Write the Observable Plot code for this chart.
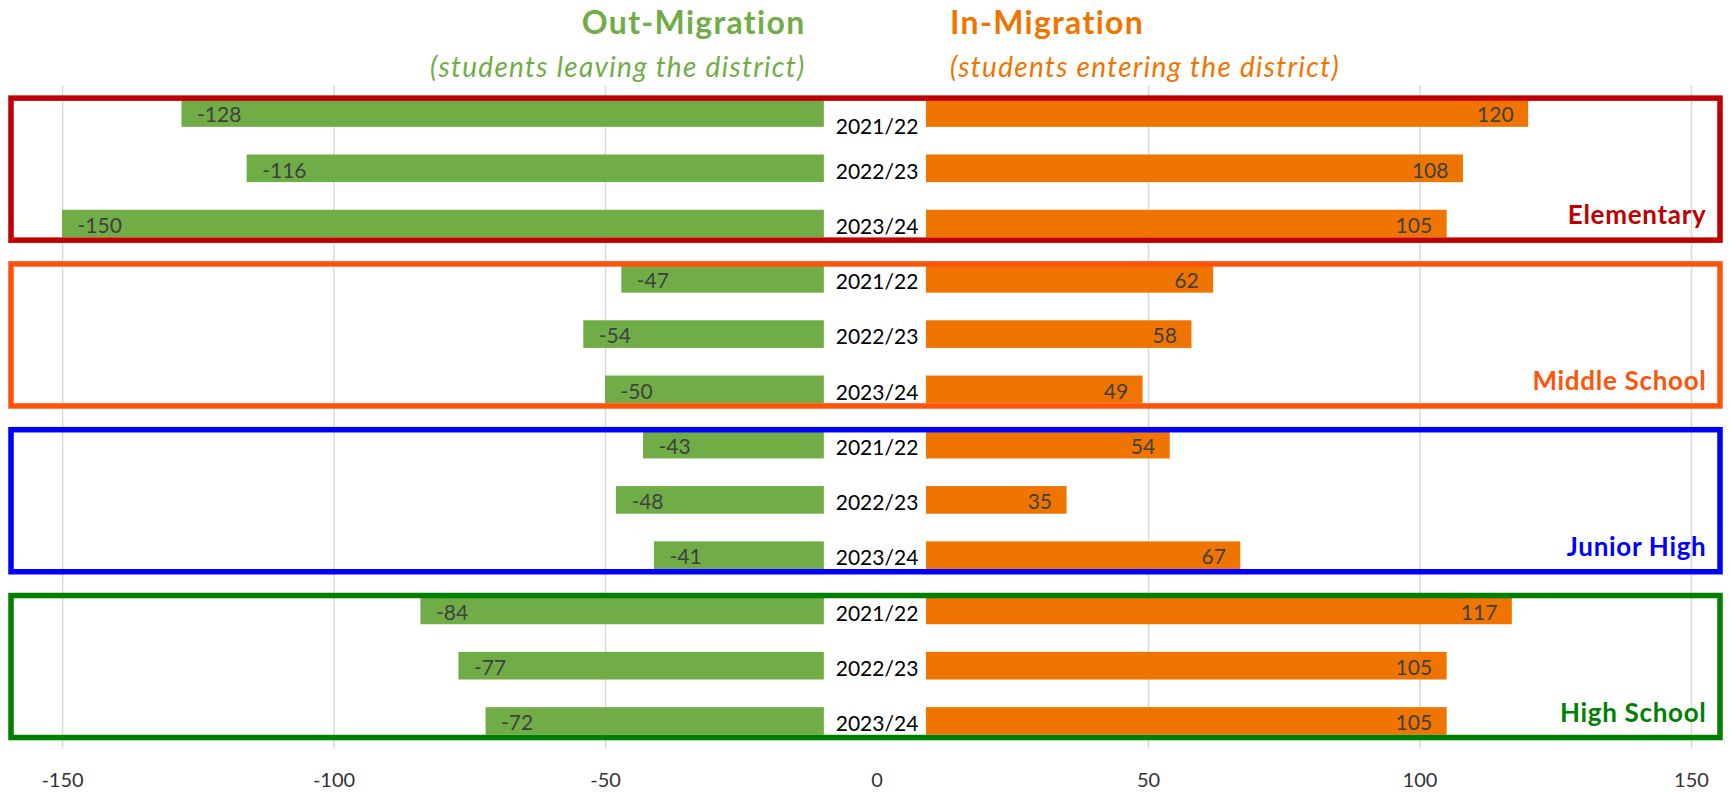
<!DOCTYPE html>
<html>
<head>
<meta charset="utf-8">
<script src="https://cdn.jsdelivr.net/npm/d3@7"></script>
<script src="https://cdn.jsdelivr.net/npm/@observablehq/plot@0.6"></script>
<style>
  html, body { margin: 0; padding: 0; background: #fff; }
  #chart svg { display: block; }
</style>
</head>
<body>
<div id="chart"></div>
<script>
// ---- Data ----
const groups = ["Elementary", "Middle School", "Junior High", "High School"];
const groupColors = ["#C00000", "#FF5309", "#0000FF", "#008000"];
const years = ["2021/22", "2022/23", "2023/24"];
const outMigration = [-128, -116, -150, -47, -54, -50, -43, -48, -41, -84, -77, -72];
const inMigration = [120, 108, 105, 62, 58, 49, 54, 35, 67, 117, 105, 105];
const xTicks = [-150, -100, -50, 0, 50, 100, 150];
const outTitle = "Out-Migration";
const outSubtitle = "(students leaving the district)";
const inTitle = "In-Migration";
const inSubtitle = "(students entering the district)";

// ---- Layout constants ----
const W = 1729, H = 793;
const xDomain = [-159.4, 155.34];
const gapOut = -9.7, gapIn = 9.1;   // inner ends of bars (gap for year labels)
const half = 0.25;                  // half bar thickness in row units
const GREEN = "#70AD47", ORANGE = "#F07400", LABEL = "#404040";

const rows = groups.flatMap((g, gi) => years.map((yr, yi) => {
  const i = gi * 3 + yi;
  return {group: g, year: yr, row: i, out: outMigration[i], inn: inMigration[i]};
}));
const boxes = groups.map((g, gi) => ({
  group: g, color: groupColors[gi], first: gi * 3, last: gi * 3 + 2
}));

const font = "Lato, 'Open Sans', sans-serif";

const chart = Plot.plot({
  width: W,
  height: H,
  marginLeft: 11,
  marginRight: 9,
  marginTop: 85.4,
  marginBottom: 44.4,
  style: {fontFamily: font, background: "#fff"},
  x: {domain: xDomain, axis: null},
  y: {domain: [11.5, -0.5], axis: null},
  color: {type: "identity"},
  marks: [
    Plot.gridX(xTicks.filter(d => d !== 0), {stroke: "#D9D9D9", strokeOpacity: 1, strokeWidth: 1.5}),
    // out-migration bars
    Plot.rectX(rows, {x1: gapOut, x2: "out", y1: d => d.row - half, y2: d => d.row + half, fill: GREEN}),
    // in-migration bars
    Plot.rectX(rows, {x1: gapIn, x2: "inn", y1: d => d.row - half, y2: d => d.row + half, fill: ORANGE}),
    // value labels
    Plot.text(rows, {x: "out", y: "row", text: d => String(d.out), textAnchor: "start", dx: 15, dy: 2,
      fill: LABEL, fontSize: 21, fontFamily: font}),
    Plot.text(rows, {x: "inn", y: "row", text: d => String(d.inn), textAnchor: "end", dx: -15, dy: 2,
      fill: LABEL, fontSize: 21, fontFamily: font}),
    // year labels
    Plot.text(rows.filter(d => d.row !== 0), {x: 0, y: "row", text: "year", dy: 3, fill: "#000", fontSize: 21, fontFamily: font}),
    Plot.text(rows.filter(d => d.row === 0), {x: 0, y: "row", text: "year", dy: 14, fill: "#000", fontSize: 21, fontFamily: font}),
    // group boxes
    Plot.rect(boxes, {x1: xDomain[0], x2: xDomain[1], y1: d => d.first - 0.27, y2: d => d.last + 0.3,
      fill: "none", stroke: "color", strokeWidth: 5.5}),
    // group labels
    Plot.text(boxes, {y: "last", text: "group", fill: "color", frameAnchor: "right", textAnchor: "end",
      dx: -14, dy: -8, fontWeight: "bold", fontSize: 26, fontFamily: font}),
    // titles
    Plot.text([outTitle], {x: 0, frameAnchor: "top", text: d => d, textAnchor: "end", lineAnchor: "top",
      dx: -71.5, dy: -75, fill: GREEN, fontWeight: "bold", fontSize: 32, fontFamily: font}),
    Plot.text([outSubtitle], {x: 0, frameAnchor: "top", text: d => d, textAnchor: "end", lineAnchor: "top",
      dx: -71.5, dy: -28.5, fill: GREEN, fontStyle: "italic", fontSize: 28, fontFamily: font}),
    Plot.text([inTitle], {x: 0, frameAnchor: "top", text: d => d, textAnchor: "start", lineAnchor: "top",
      dx: 73, dy: -75, fill: ORANGE, fontWeight: "bold", fontSize: 32, fontFamily: font}),
    Plot.text([inSubtitle], {x: 0, frameAnchor: "top", text: d => d, textAnchor: "start", lineAnchor: "top",
      dx: 73, dy: -28.5, fill: ORANGE, fontStyle: "italic", fontSize: 28, fontFamily: font}),
    // x axis
    Plot.axisX(xTicks, {tickSize: 0, tickPadding: 24, fontSize: 20, fill: "#333", tickFormat: d => String(d), label: null})
  ]
});
// letter spacing to mimic the wider original typeface
const spacing = new Map([[outTitle, 1.3], [inTitle, 1.3], [outSubtitle, 1.3], [inSubtitle, 1.3]]);
groups.forEach(g => spacing.set(g, 0.7));
d3.select(chart).selectAll("text").each(function() {
  const s = spacing.get(this.textContent);
  if (s != null) d3.select(this).attr("letter-spacing", s);
});
document.getElementById("chart").appendChild(chart);
</script>
</body>
</html>
